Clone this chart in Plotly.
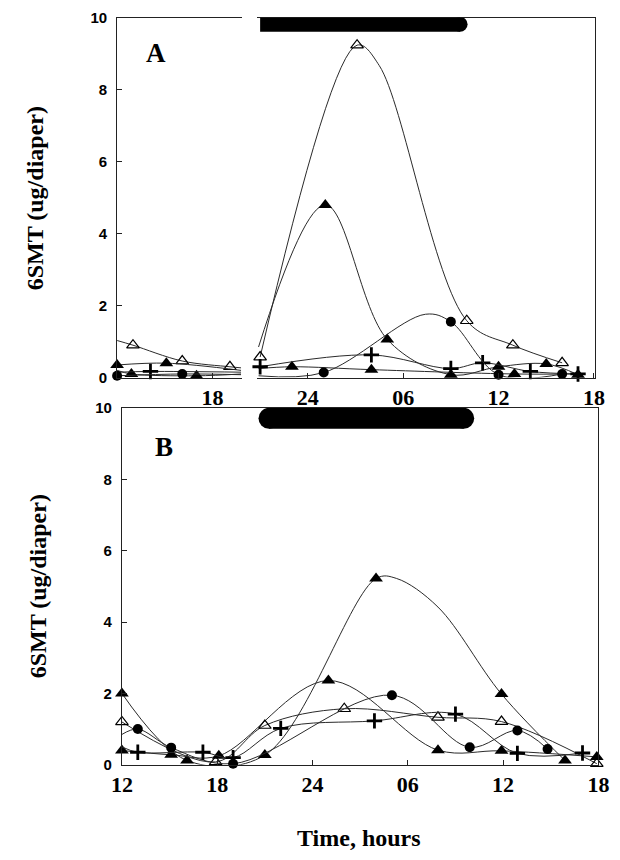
import plotly.graph_objects as go

# ---------------- DATA (hours: 12 -> 42, where 30 = 06h next day) ----------------
# Panel A
a_open_t = [12.0, 13.0, 16.1, 19.1, 19.8, 21.0, 27.1, 28.5, 34.0, 36.9, 40.0]
a_open_v = [1.03, 0.90, 0.46, 0.30, 0.27, 0.57, 9.24, 8.67, 1.58, 0.90, 0.41]
a_open_m = [0, 1, 1, 1, 0, 1, 1, 0, 1, 1, 1]

a_ftri1_t = [12.0, 12.9, 17.0, 19.8, 20.9, 25.1, 29.0, 33.0, 36.0, 39.0, 41.0]
a_ftri1_v = [0.20, 0.10, 0.05, 0.10, 0.85, 4.80, 1.06, 0.08, 0.30, 0.38, 0.08]
a_ftri1_m = [0, 1, 1, 0, 0, 1, 1, 1, 1, 1, 1]

a_ftri2_t = [12.0, 15.1, 19.8, 20.9, 23.0, 28.0, 37.0, 41.0]
a_ftri2_v = [0.35, 0.40, 0.20, 0.25, 0.30, 0.22, 0.10, 0.10]
a_ftri2_m = [1, 1, 0, 0, 1, 1, 1, 0]

a_plus_t = [12.0, 14.1, 19.8, 21.0, 28.0, 33.0, 35.0, 38.0, 41.0]
a_plus_v = [0.15, 0.17, 0.15, 0.30, 0.63, 0.25, 0.41, 0.17, 0.10]
a_plus_m = [0, 1, 0, 1, 1, 1, 1, 1, 1]

a_circ_t = [12.0, 16.1, 19.8, 20.9, 25.0, 31.4, 33.0, 36.0, 40.0]
a_circ_v = [0.05, 0.10, 0.08, 0.05, 0.14, 1.76, 1.55, 0.08, 0.10]
a_circ_m = [1, 1, 0, 0, 1, 0, 1, 1, 1]

# Panel B
b_ftri1_t = [12.0, 16.1, 21.0, 28.0, 29.3, 31.9, 35.9, 39.9]
b_ftri1_v = [2.00, 0.12, 0.27, 5.22, 5.22, 4.42, 1.98, 0.12]
b_ftri1_m = [1, 1, 1, 1, 0, 0, 1, 1]

b_ftri2_t = [12.0, 15.1, 18.1, 25.0, 31.9, 35.9, 41.9]
b_ftri2_v = [0.40, 0.28, 0.25, 2.36, 0.41, 0.39, 0.22]
b_ftri2_m = [1, 1, 1, 1, 1, 1, 1]

b_open_t = [12.0, 17.9, 21.0, 26.0, 31.9, 35.9, 41.9]
b_open_v = [1.20, 0.08, 1.10, 1.57, 1.33, 1.21, 0.03]
b_open_m = [1, 1, 1, 1, 1, 1, 1]

b_circ_t = [12.0, 13.0, 15.1, 19.0, 29.0, 33.9, 36.9, 38.8]
b_circ_v = [0.85, 1.00, 0.48, 0.03, 1.95, 0.49, 0.96, 0.44]
b_circ_m = [0, 1, 1, 1, 1, 1, 1, 1]

b_plus_t = [12.0, 13.0, 17.1, 19.0, 22.0, 27.9, 33.0, 36.9, 41.0]
b_plus_v = [0.50, 0.35, 0.35, 0.20, 1.02, 1.23, 1.42, 0.32, 0.33]
b_plus_m = [0, 1, 1, 1, 1, 1, 1, 1, 1]

# dark period (hours)
dark_a = [21.0, 33.58]
dark_b = [21.26, 33.52]

# ticks
y_ticks = [0, 2, 4, 6, 8, 10]
a_left_tickvals = [18]
a_left_ticktext = ["18"]
a_right_tickvals = [24, 30, 36, 42]
a_right_ticktext = ["24", "06", "12", "18"]
b_tickvals = [12, 18, 24, 30, 36, 42]
b_ticktext = ["12", "18", "24", "06", "12", "18"]

a_break = 20.3

# ---------------- STYLE ----------------
W, H = 620, 860
LINE = dict(color="#2a2a2a", width=1)
SYM = {
    "ftri": dict(symbol="triangle-up", size=12, color="black"),
    "open": dict(symbol="triangle-up-open", size=11, color="black", line=dict(width=1.2, color="black")),
    "circ": dict(symbol="circle", size=10, color="black"),
    "plus": dict(symbol="cross-thin", size=11, color="black", line=dict(width=2.8, color="black")),
}

fig = go.Figure()


def add_series(t, v, m, kind, xa, ya):
    fig.add_trace(go.Scatter(x=t, y=v, mode="lines", line=dict(shape="spline", smoothing=1, **LINE),
                             xaxis=xa, yaxis=ya, showlegend=False, hoverinfo="skip", cliponaxis=False))
    mt = [a for a, f in zip(t, m) if f]
    mv = [b for b, f in zip(v, m) if f]
    fig.add_trace(go.Scatter(x=mt, y=mv, mode="markers", marker=SYM[kind],
                             xaxis=xa, yaxis=ya, showlegend=False, cliponaxis=False))


def add_split(t, v, m, kind):
    left = [(a, b, c) for a, b, c in zip(t, v, m) if a < a_break]
    right = [(a, b, c) for a, b, c in zip(t, v, m) if a >= a_break]
    if left:
        add_series(*map(list, zip(*left)), kind, "x", "y")
    if right:
        add_series(*map(list, zip(*right)), kind, "x2", "y2")


add_split(a_open_t, a_open_v, a_open_m, "open")
add_split(a_ftri1_t, a_ftri1_v, a_ftri1_m, "ftri")
add_split(a_ftri2_t, a_ftri2_v, a_ftri2_m, "ftri")
add_split(a_plus_t, a_plus_v, a_plus_m, "plus")
add_split(a_circ_t, a_circ_v, a_circ_m, "circ")

add_series(b_ftri1_t, b_ftri1_v, b_ftri1_m, "ftri", "x3", "y3")
add_series(b_ftri2_t, b_ftri2_v, b_ftri2_m, "ftri", "x3", "y3")
add_series(b_open_t, b_open_v, b_open_m, "open", "x3", "y3")
add_series(b_circ_t, b_circ_v, b_circ_m, "circ", "x3", "y3")
add_series(b_plus_t, b_plus_v, b_plus_m, "plus", "x3", "y3")

serif_tick = dict(family="Liberation Serif", size=22, color="black", weight="bold")
sans_tick = dict(family="Liberation Sans", size=15, color="black", weight="bold")

common_x = dict(showline=True, mirror=True, linecolor="#222", linewidth=1, ticks="inside", ticklen=5,
                tickcolor="#222", showgrid=False, zeroline=False, tickfont=serif_tick, fixedrange=True,
                ticklabelstandoff=0)
common_y = dict(showline=True, linecolor="#222", linewidth=1, ticks="inside", ticklen=5, tickcolor="#222",
                showgrid=False, zeroline=False, tickfont=sans_tick, range=[0, 10], fixedrange=True)

ya_dom = [(H - 376) / H, (H - 9) / H]
yb_dom = [(H - 771) / H, (H - 407) / H]

fig.update_layout(
    width=W, height=H, margin=dict(l=0, r=0, t=0, b=0),
    paper_bgcolor="white", plot_bgcolor="white",
    xaxis=dict(domain=[110 / W, 239 / W], range=[12, 19.83], anchor="y",
               tickvals=a_left_tickvals, ticktext=a_left_ticktext, **common_x),
    yaxis=dict(domain=ya_dom, anchor="x", tickvals=y_ticks, ticklabelstandoff=6, **common_y),
    xaxis2=dict(domain=[255 / W, 606 / W], range=[20.8, 42.1], anchor="y2",
                tickvals=a_right_tickvals, ticktext=a_right_ticktext, **common_x),
    yaxis2=dict(domain=ya_dom, anchor="x2", side="right", showticklabels=False,
                **{k: v for k, v in common_y.items() if k not in ("ticks",)}, ticks=""),
    xaxis3=dict(domain=[115 / W, 609 / W], range=[12, 42], anchor="y3",
                tickvals=b_tickvals, ticktext=b_ticktext, **common_x),
    yaxis3=dict(domain=yb_dom, anchor="x3", mirror=True, tickvals=y_ticks, ticklabelstandoff=6, **common_y),
)

# dark-period bars
shapes = []
r_a = 7.5
shapes.append(dict(type="rect", xref="x2", yref="y2", x0=dark_a[0], x1=dark_a[1],
                   ysizemode="pixel", yanchor=9.82, y0=-r_a, y1=r_a,
                   fillcolor="black", line=dict(width=0), layer="above"))
shapes.append(dict(type="circle", xref="x2", yref="y2", xsizemode="pixel", xanchor=dark_a[1],
                   x0=-r_a, x1=r_a, ysizemode="pixel", yanchor=9.82, y0=-r_a, y1=r_a,
                   fillcolor="black", line=dict(width=0), layer="above"))
r_b = 10.5
shapes.append(dict(type="rect", xref="x3", yref="y3", x0=dark_b[0], x1=dark_b[1],
                   ysizemode="pixel", yanchor=9.71, y0=-r_b, y1=r_b,
                   fillcolor="black", line=dict(width=0), layer="above"))
for xe in dark_b:
    shapes.append(dict(type="circle", xref="x3", yref="y3", xsizemode="pixel", xanchor=xe,
                       x0=-r_b, x1=r_b, ysizemode="pixel", yanchor=9.71, y0=-r_b, y1=r_b,
                       fillcolor="black", line=dict(width=0), layer="above"))
fig.update_layout(shapes=shapes)

title_font = dict(family="Liberation Serif", size=24, color="black", weight="bold")
letter_font = dict(family="Liberation Serif", size=27, color="black", weight="bold")
ann = [
    dict(text="6SMT (ug/diaper)", x=25 / W, y=(H - 193) / H, textangle=-90, font=title_font),
    dict(text="6SMT (ug/diaper)", x=28 / W, y=(H - 589) / H, textangle=-90, font=title_font),
    dict(text="Time, hours", x=361 / W, y=(H - 846) / H, font=title_font),
    dict(text="A", x=150 / W, y=(H - 45) / H, font=letter_font),
    dict(text="B", x=159 / W, y=(H - 447) / H, font=letter_font),
]
for a in ann:
    a.update(xref="paper", yref="paper", showarrow=False, xanchor="center", yanchor="middle")
fig.update_layout(annotations=ann)

fig.write_html("out.html", config={"displayModeBar": False})
with open("out.html", "r", encoding="utf-8") as f:
    html = f.read()
html = html.replace("<body>", '<body style="margin:0;padding:0;">', 1)
with open("out.html", "w", encoding="utf-8") as f:
    f.write(html)
